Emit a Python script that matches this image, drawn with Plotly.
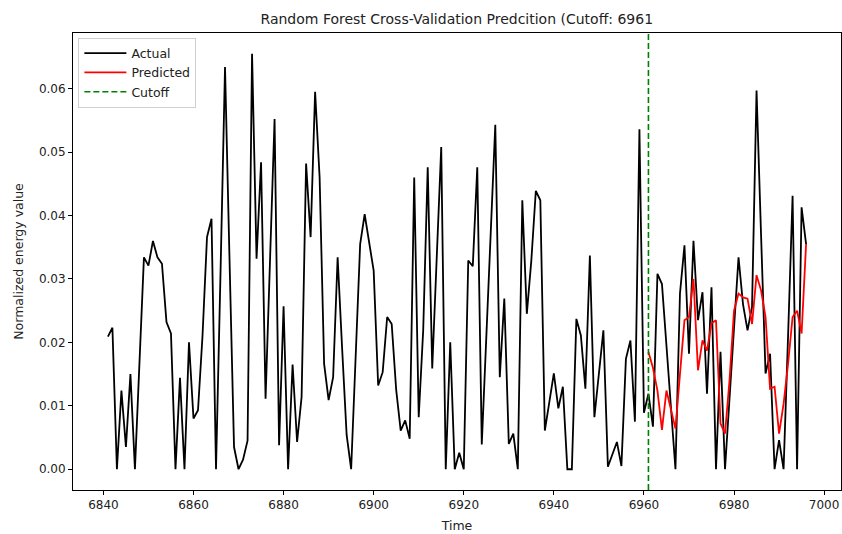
import plotly.graph_objects as go

title_text = "Random Forest Cross-Validation Predcition (Cutoff: 6961"
cutoff = 6961
time_start = 6841

actual = [
    0.0209, 0.0223, 0.0, 0.0124, 0.0035, 0.0150, 0.0, 0.0160, 0.0334, 0.0321,
    0.0360, 0.0334, 0.0324, 0.0232, 0.0214, 0.0, 0.0144, 0.0, 0.0200, 0.0080,
    0.0093, 0.0210, 0.0366, 0.0395, 0.0, 0.0310, 0.0634, 0.0330, 0.0035, 0.0,
    0.0015, 0.0045, 0.0655, 0.0332, 0.0484, 0.0111, 0.0330, 0.0552, 0.0038, 0.0257,
    0.0, 0.0165, 0.0043, 0.0114, 0.0482, 0.0366, 0.0595, 0.0460, 0.0166, 0.0109,
    0.0145, 0.0334, 0.0190, 0.0054, 0.0, 0.0180, 0.0355, 0.0402, 0.0360, 0.0313,
    0.0132, 0.0153, 0.0240, 0.0229, 0.0125, 0.0061, 0.0077, 0.0048, 0.0460, 0.0082,
    0.0220, 0.0476, 0.0159, 0.0330, 0.0508, 0.0, 0.0200, 0.0, 0.0026, 0.0,
    0.0329, 0.0320, 0.0476, 0.0039, 0.0210, 0.0380, 0.0543, 0.0145, 0.0269, 0.0040,
    0.0056, 0.0, 0.0424, 0.0245, 0.0329, 0.0439, 0.0424, 0.0061, 0.0103, 0.0151,
    0.0096, 0.0130, 0.0, 0.0, 0.0237, 0.0211, 0.0127, 0.0337, 0.0082, 0.0151,
    0.0219, 0.0004, 0.0022, 0.0043, 0.0005, 0.0174, 0.0203, 0.0075, 0.0536, 0.0089,
    0.0119, 0.0067, 0.0308, 0.0292, 0.0195, 0.0097, 0.0, 0.0277, 0.0353, 0.0182,
    0.0360, 0.0235, 0.0279, 0.0119, 0.0287, 0.0, 0.0185, 0.0, 0.0110, 0.0220,
    0.0334, 0.0260, 0.0219, 0.0256, 0.0597, 0.0370, 0.0151, 0.0182, 0.0, 0.0046,
    0.0, 0.0210, 0.0431, 0.0, 0.0413, 0.0355,
]

predicted = [
    0.0185, 0.0160, 0.0124, 0.0062, 0.0124, 0.0095, 0.0064, 0.0150, 0.0235, 0.0240,
    0.0300, 0.0156, 0.0203, 0.0187, 0.0230, 0.0235, 0.0072, 0.0056, 0.0140, 0.0250,
    0.0277, 0.0271, 0.0269, 0.0229, 0.0306, 0.0282, 0.0240, 0.0127, 0.0130, 0.0056,
    0.0103, 0.0166, 0.0240, 0.0250, 0.0214, 0.0355,
]

x_ticks = [6840, 6860, 6880, 6900, 6920, 6940, 6960, 6980, 7000]
y_ticks = [0.00, 0.01, 0.02, 0.03, 0.04, 0.05, 0.06]

time_actual = [time_start + i for i in range(len(actual))]
time_pred = [cutoff + i for i in range(len(predicted))]

# matplotlib-like 5% margins
xmin, xmax = min(time_actual), max(time_actual)
ymin, ymax = min(actual + predicted), max(actual + predicted)
xpad = (xmax - xmin) * 0.05
ypad = (ymax - ymin) * 0.05

fig = go.Figure()
fig.add_trace(go.Scatter(x=time_actual, y=actual, mode="lines", name="Actual",
                         line=dict(color="black", width=1.8)))
fig.add_trace(go.Scatter(x=time_pred, y=predicted, mode="lines", name="Predicted",
                         line=dict(color="red", width=1.8)))
fig.add_trace(go.Scatter(x=[cutoff, cutoff], y=[ymin - ypad, ymax + ypad], mode="lines",
                         name="Cutoff", line=dict(color="green", width=1.6, dash="6px,3px")))

axis_common = dict(showline=True, linecolor="black", linewidth=1, mirror=True,
                   ticks="outside", ticklen=4, tickcolor="black", showgrid=False,
                   zeroline=False, tickfont=dict(size=12, color="#222222"))

fig.update_layout(
    width=842, height=534,
    margin=dict(l=73, r=1, t=33, b=44),
    paper_bgcolor="white", plot_bgcolor="white",
    font=dict(family="DejaVu Sans", color="#222222"),
    title=dict(text=title_text, x=0.5425, xanchor="center", y=0.965, yanchor="middle",
               font=dict(size=14, color="#222222")),
    xaxis=dict(range=[xmin - xpad, xmax + xpad], tickvals=x_ticks,
               title=dict(text="Time", font=dict(size=12.5), standoff=9), **axis_common),
    yaxis=dict(range=[ymin - ypad, ymax + ypad], tickvals=y_ticks, tickformat=".2f",
               title=dict(text="Normalized energy value", font=dict(size=12.5), standoff=12),
               **axis_common),
    legend=dict(x=0.007, y=0.99, xanchor="left", yanchor="top",
                bgcolor="rgba(255,255,255,0.85)", bordercolor="#d0d0d0", borderwidth=1,
                font=dict(size=12.5, color="#222222"), tracegroupgap=0, itemwidth=42),
    showlegend=True,
)

fig.write_html("out.html", config={"displayModeBar": False},
               post_script="document.body.style.margin='0';document.body.style.overflow='hidden';")
